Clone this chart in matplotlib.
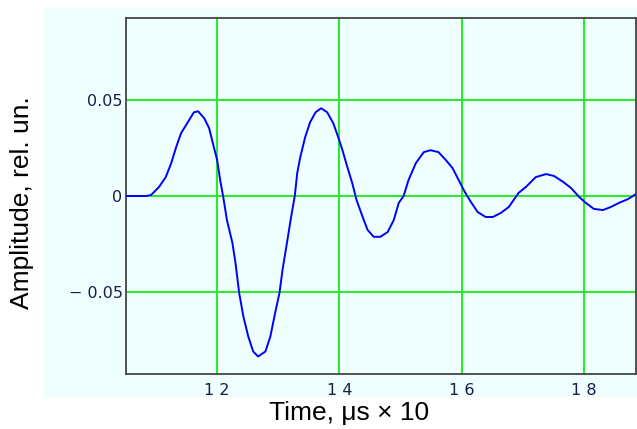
import matplotlib.pyplot as plt
from matplotlib.patches import Rectangle

# Time (us x 10) and amplitude
t = [10.50, 10.84, 10.92, 11.05, 11.16, 11.25, 11.33, 11.41, 11.52, 11.62,
     11.69, 11.79, 11.87, 11.93, 12.00, 12.05, 12.10, 12.16, 12.25, 12.30,
     12.36, 12.43, 12.51, 12.59, 12.67, 12.79, 12.87, 12.95, 13.02, 13.07,
     13.15, 13.21, 13.27, 13.31, 13.36, 13.44, 13.52, 13.61, 13.70, 13.80,
     13.90, 13.98, 14.05, 14.13, 14.21, 14.28, 14.38, 14.46, 14.56, 14.67,
     14.79, 14.89, 14.97, 15.05, 15.13, 15.25, 15.38, 15.49, 15.62, 15.74,
     15.85, 15.95, 16.05, 16.15, 16.26, 16.39, 16.51, 16.64, 16.77, 16.93,
     17.05, 17.21, 17.38, 17.51, 17.66, 17.79, 17.92, 18.03, 18.16, 18.31,
     18.44, 18.57, 18.72, 18.85]
amp = [0.0, 0.0, 0.0005, 0.0047, 0.0098, 0.0171, 0.0254, 0.0326, 0.0383, 0.0435,
       0.0440, 0.0404, 0.0352, 0.0275, 0.0187, 0.0083, -0.0005, -0.0124, -0.0244, -0.0347,
       -0.0503, -0.0627, -0.0731, -0.0808, -0.0834, -0.0808, -0.0731, -0.0606, -0.0503, -0.0383,
       -0.0228, -0.0109, 0.0, 0.0119, 0.0202, 0.0306, 0.0383, 0.0435, 0.0456, 0.0435,
       0.0378, 0.0306, 0.0238, 0.0150, 0.0067, -0.0021, -0.0109, -0.0176, -0.0212, -0.0212,
       -0.0187, -0.0124, -0.0036, 0.0, 0.0083, 0.0171, 0.0228, 0.0238, 0.0228, 0.0187,
       0.0145, 0.0083, 0.0021, -0.0031, -0.0083, -0.0109, -0.0109, -0.0088, -0.0057, 0.0016,
       0.0047, 0.0098, 0.0114, 0.0104, 0.0073, 0.0041, -0.0005, -0.0036, -0.0067, -0.0073,
       -0.0057, -0.0036, -0.0016, 0.0010]

xticks = [12, 14, 16, 18]
xlabels = ['1 2', '1 4', '1 6', '1 8']
yticks = [-0.05, 0, 0.05]
ylabels = ['\u2212 0.05', '0', '0.05']

bg = '#effefe'
plt.rcParams['font.family'] = ['Liberation Sans', 'DejaVu Sans']

fig = plt.figure(figsize=(6.37, 4.29), dpi=100)
fig.patches.append(Rectangle((44 / 637, 32 / 429), 593 / 637, 389 / 429,
                             transform=fig.transFigure, facecolor=bg,
                             edgecolor='none', zorder=-1))
ax = fig.add_axes([126 / 637, 55 / 429, 510 / 637, 356 / 429])
ax.set_facecolor(bg)

ax.plot(t, amp, color='#0000ff', lw=1.4, zorder=3)

ax.set_xlim(10.51, 18.85)
ax.set_ylim(-0.0925, 0.0925)
ax.set_xticks(xticks)
ax.set_xticklabels(xlabels, family='DejaVu Sans')
ax.set_yticks(yticks)
ax.set_yticklabels(ylabels, family='DejaVu Sans')
ax.grid(True, color='#11ee11', lw=1.3)
ax.tick_params(length=0, labelsize=11.5, labelcolor='#1c1c48')
ax.tick_params(axis='x', pad=6.5)
ax.tick_params(axis='y', pad=2.5)
for s in ax.spines.values():
    s.set_color('#444444')
    s.set_linewidth(1.3)

ax.set_xlabel('Time, \u03bcs \u00d7 10', fontsize=19)
ax.xaxis.set_label_coords(0.437, -0.075)
ax.set_ylabel('Amplitude, rel. un.', fontsize=19)
ax.yaxis.set_label_coords(-0.180, 0.48)

fig.savefig('out.png', dpi=100)
